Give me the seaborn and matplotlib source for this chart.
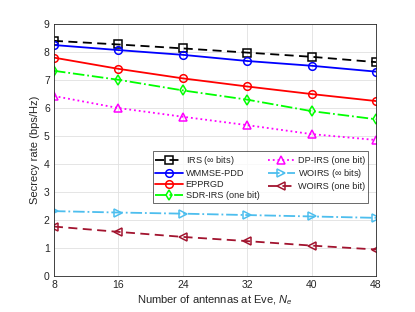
import matplotlib
matplotlib.use("Agg")
import matplotlib.pyplot as plt
import seaborn as sns
import pandas as pd

antennas = [8, 16, 24, 32, 40, 48]
irs_inf = [8.40, 8.27, 8.13, 7.98, 7.83, 7.64]
wmmse_pdd = [8.25, 8.07, 7.90, 7.68, 7.51, 7.30]
epprgd = [7.80, 7.40, 7.06, 6.77, 6.50, 6.25]
sdr_irs_one = [7.33, 7.01, 6.63, 6.30, 5.89, 5.60]
dp_irs_one = [6.43, 6.00, 5.69, 5.39, 5.07, 4.86]
woirs_inf = [2.32, 2.27, 2.23, 2.18, 2.13, 2.08]
woirs_one = [1.77, 1.58, 1.40, 1.25, 1.09, 0.95]

series = [
    ("IRS ($\\infty$ bits)", irs_inf, "black", (0, (5, 3)), "s"),
    ("WMMSE-PDD", wmmse_pdd, "blue", "-", "o"),
    ("EPPRGD", epprgd, "red", "-", "o"),
    ("SDR-IRS (one bit)", sdr_irs_one, "#00ff00", "-.", "d"),
    ("DP-IRS (one bit)", dp_irs_one, "magenta", ":", "^"),
    ("WOIRS ($\\infty$ bits)", woirs_inf, "#4dbeee", "-.", ">"),
    ("WOIRS (one bit)", woirs_one, "#a2142f", (0, (5, 3)), "<"),
]

sns.set_theme(style="whitegrid")
plt.rcParams['font.family'] = ['Liberation Sans', 'DejaVu Sans']
plt.rcParams['mathtext.fontset'] = 'custom'
plt.rcParams['mathtext.it'] = 'Liberation Sans:italic'
plt.rcParams['mathtext.rm'] = 'Liberation Sans'

fig = plt.figure(figsize=(4.15, 3.12), dpi=100)
ax = fig.add_axes([0.130, 0.115, 0.776, 0.808])

for name, vals, color, ls, mk in series:
    df = pd.DataFrame({"x": antennas, "y": vals})
    sns.lineplot(data=df, x="x", y="y", ax=ax, color=color, linestyle=ls,
                 marker=mk, markersize=5.5, markerfacecolor="none",
                 markeredgecolor=color, markeredgewidth=1.1, linewidth=1.3,
                 label=name)

ax.set_xlim(8, 48)
ax.set_ylim(0, 9)
ax.set_xticks(antennas)
ax.set_yticks(range(0, 10))
ax.tick_params(labelsize=7.5, direction="in", length=3, color="#262626",
               labelcolor="#262626", pad=3)
ax.grid(True, color="#e0e0e0", linewidth=0.6)
for sp in ax.spines.values():
    sp.set_color("#262626")
    sp.set_linewidth(0.6)
ax.set_facecolor("white")
ax.set_xlabel("Number of antennas at Eve, $N_e$", fontsize=8, color="#262626", labelpad=2)
ax.set_ylabel("Secrecy rate (bps/Hz)", fontsize=8, color="#262626", labelpad=3)

leg = ax.legend(ncol=2, loc="upper right", bbox_to_anchor=(0.975, 0.495),
                fontsize=6.6, frameon=True, fancybox=False, edgecolor="#262626",
                handlelength=3.0, handletextpad=0.3, columnspacing=0.9,
                labelspacing=0.22, borderpad=0.3, borderaxespad=0)
leg.get_frame().set_linewidth(0.6)

fig.savefig("out.png", dpi=100, facecolor="white")
